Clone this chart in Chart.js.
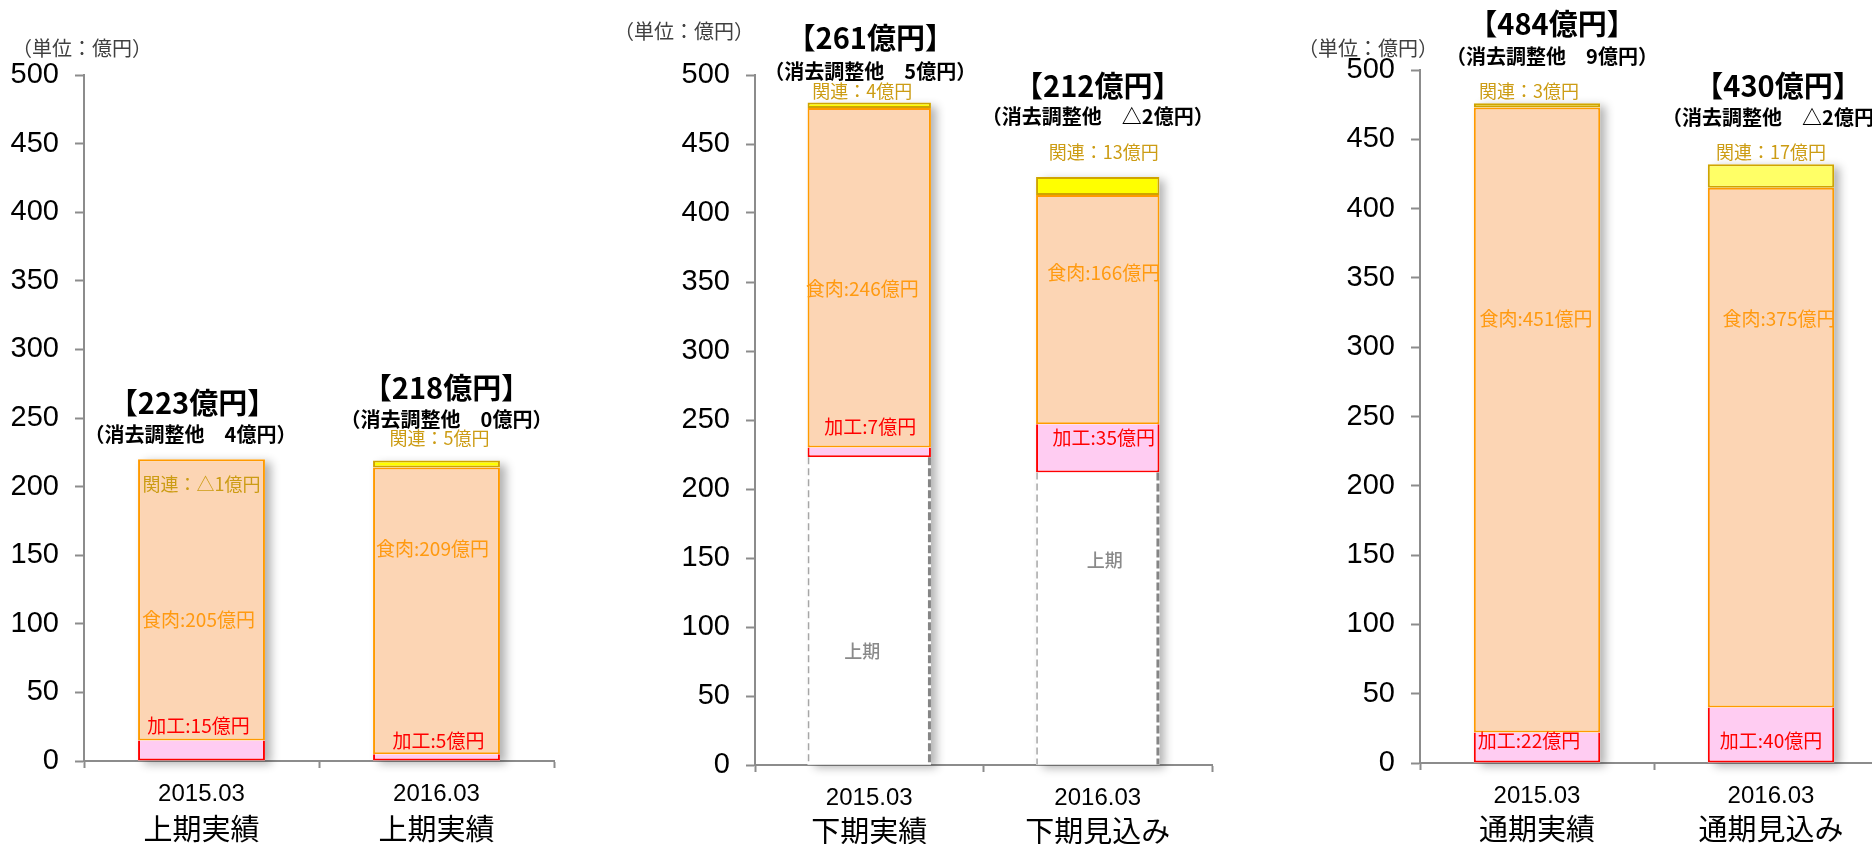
<!DOCTYPE html>
<html lang="ja">
<head>
<meta charset="utf-8">
<title>加工・食肉・関連 経常利益推移</title>
<script src="https://cdn.jsdelivr.net/npm/chart.js@4.4.1/dist/chart.umd.min.js"></script>
<style>
  html, body { margin: 0; padding: 0; background: #ffffff; overflow: hidden; width: 1872px; height: 844px; position: relative; }
  canvas { position: absolute; top: 0; }
</style>
</head>
<body>
<canvas id="firstHalf" width="600" height="844" style="left:0px"></canvas>
<canvas id="secondHalf" width="640" height="844" style="left:600px"></canvas>
<canvas id="fullYear" width="700" height="844" style="left:1240px"></canvas>
<script>
// ---- 上期実績 ----
const h1Categories = [['2015.03', '上期実績'], ['2016.03', '上期実績']];
const h1Processing = [15, 5];
const h1Meat = [205, 209];
const h1Related = [-1, 5];
const h1Totals = [223, 218];
const h1Adjust = [4, 0];

// ---- 下期 ----
const h2Categories = [['2015.03', '下期実績'], ['2016.03', '下期見込み']];
const h2FirstHalf = [223, 212];
const h2Processing = [7, 35];
const h2Meat = [246, 166];
const h2Related = [4, 13];
const h2Totals = [261, 212];
const h2Adjust = [5, -2];

// ---- 通期 ----
const fyCategories = [['2015.03', '通期実績'], ['2016.03', '通期見込み']];
const fyProcessing = [22, 40];
const fyMeat = [451, 375];
const fyRelated = [3, 17];
const fyTotals = [484, 430];
const fyAdjust = [9, -2];

// value axis
const yMin = 0;
const yMax = 500;
const yStep = 50;
const unitLabel = '（単位：億円）';

// ---- styling ----
const CJK = '"Noto Sans CJK JP", "Noto Sans CJK SC", sans-serif';
const LATIN = '"Liberation Sans", Arial, sans-serif';
const AXIS_GRAY = '#8c8c8c';
const COLORS = {
  procFill: '#FFCCF2', procLine: '#FF0000', procText: '#FF0000',
  meatFill: '#FCD5B4', meatLine: '#FF9A00', meatText: '#FF9A10',
  relLine: '#CFA400', relText: '#CC9C14',
  baseText: '#8a8a8a'
};

const fmt = v => (v < 0 ? '△' + (-v) : String(v));

// caption placement per bar: value-axis position of each caption and horizontal nudge (px)
const h1Layout = [
  { total: [261, -9], adj: [238, -11], rel: [202, 0], meat: [103, -3], proc: [25.5, -3] },
  { total: [272, 10], adj: [249, 10], rel: [235, 3], meat: [155, -4], proc: [14.6, 2] }
];
const h2Layout = [
  { total: [527, 1], adj: [502.8, 1], rel: [488, -7], meat: [345, -7], proc: [245, 1], base: [82.6, -7] },
  { total: [492, 0], adj: [470, 0], rel: [444, 6], meat: [357, 6], proc: [237, 6], base: [148.6, 7] }
];
const fyLayout = [
  { total: [533, 15], adj: [509.7, 15], rel: [484.5, -8], meat: [320.7, -1], proc: [15.9, -8] },
  { total: [488.5, 7], adj: [466, 7], rel: [441, 0], meat: [320.7, 8], proc: [15.9, 0] }
];

// soft drop shadow behind each stacked column
const shadowPlugin = {
  id: 'columnShadow',
  beforeDatasetsDraw(chart) {
    const ctx = chart.ctx;
    const n = chart.data.labels.length;
    ctx.save();
    ctx.shadowColor = 'rgba(0,0,0,0.30)';
    ctx.shadowBlur = 9;
    ctx.shadowOffsetX = 6;
    ctx.shadowOffsetY = 3;
    ctx.fillStyle = '#ffffff';
    for (let i = 0; i < n; i++) {
      let top = Infinity, bottom = -Infinity, left = 0, right = 0;
      chart.data.datasets.forEach((ds, di) => {
        const el = chart.getDatasetMeta(di).data[i];
        if (!el || ds.data[i] <= 0) return;
        const p = el.getProps(['x', 'y', 'base', 'width'], true);
        top = Math.min(top, p.y, p.base);
        bottom = Math.max(bottom, p.y, p.base);
        left = p.x - p.width / 2;
        right = p.x + p.width / 2;
      });
      if (top < bottom) ctx.fillRect(left, top, right - left, bottom - top);
    }
    ctx.restore();
  }
};

function makeOverlay(p) {
  return {
    id: 'stackCaptions',
    afterDatasetsDraw(chart) {
      const ctx = chart.ctx;
      const y = chart.scales.y;
      const x = chart.scales.x;
      const sets = chart.data.datasets;
      const idx = name => sets.findIndex(d => d.label === name);

      // dashed outline for the carried-over first-half portion
      const bi = idx('上期');
      if (bi >= 0) {
        chart.getDatasetMeta(bi).data.forEach(el => {
          const b = el.getProps(['x', 'y', 'base', 'width'], true);
          const l = b.x - b.width / 2, r = b.x + b.width / 2;
          ctx.save();
          ctx.strokeStyle = '#a6a6a6';
          ctx.lineWidth = 1.5;
          ctx.setLineDash([7, 4]);
          ctx.beginPath(); ctx.moveTo(l + 1, b.y); ctx.lineTo(l + 1, b.base); ctx.stroke();
          ctx.strokeStyle = '#858585';
          ctx.lineWidth = 3;
          ctx.setLineDash([8, 3]);
          ctx.beginPath(); ctx.moveTo(r - 1.5, b.y); ctx.lineTo(r - 1.5, b.base); ctx.stroke();
          ctx.restore();
        });
      }

      const put = (text, font, color, px, py) => {
        ctx.save();
        ctx.font = font;
        ctx.fillStyle = color;
        ctx.textAlign = 'center';
        ctx.textBaseline = 'middle';
        ctx.fillText(text, px, py);
        ctx.restore();
      };

      const meta0 = chart.getDatasetMeta(0).data;
      p.layout.forEach((L, i) => {
        const cx = meta0[i].x;
        const v = name => sets[idx(name)].data[i];
        const at = a => y.getPixelForValue(a[0]);
        put('【' + p.totals[i] + '億円】', 'bold 29px ' + CJK, '#000000', cx + L.total[1], at(L.total));
        put('（消去調整他　' + fmt(p.adjust[i]) + '億円）', 'bold 20px ' + CJK, '#000000', cx + L.adj[1], at(L.adj));
        put('関連：' + fmt(v('関連')) + '億円', '18px ' + CJK, COLORS.relText, cx + L.rel[1], at(L.rel));
        put('食肉:' + fmt(v('食肉')) + '億円', '19px ' + CJK, COLORS.meatText, cx + L.meat[1], at(L.meat));
        put('加工:' + fmt(v('加工')) + '億円', '19px ' + CJK, COLORS.procText, cx + L.proc[1], at(L.proc));
        if (L.base) put('上期', '500 18px ' + CJK, COLORS.baseText, cx + L.base[1], at(L.base));
      });

      // second line of each category label (period name)
      p.categories.forEach((c, i) => {
        put(c[1], '29px ' + CJK, '#000000', x.getPixelForValue(i), x.top + p.subLabelGap);
      });

      // unit caption
      ctx.save();
      ctx.font = '20px ' + CJK;
      ctx.fillStyle = '#404040';
      ctx.textAlign = 'left';
      ctx.textBaseline = 'middle';
      ctx.fillText(unitLabel, p.unitPos[0], p.unitPos[1]);
      ctx.restore();
    }
  };
}

function makePanel(id, p) {
  const datasets = [];
  if (p.firstHalf) {
    datasets.push({ label: '上期', data: p.firstHalf, backgroundColor: '#ffffff', borderWidth: 0 });
  }
  datasets.push({ label: '加工', data: p.processing, backgroundColor: COLORS.procFill, borderColor: COLORS.procLine,
                  borderWidth: { top: 0, left: 2, right: 2, bottom: 2 }, borderSkipped: false });
  datasets.push({ label: '食肉', data: p.meat, backgroundColor: COLORS.meatFill, borderColor: COLORS.meatLine,
                  borderWidth: 2, borderSkipped: false });
  datasets.push({ label: '関連', data: p.related, backgroundColor: p.relatedFill, borderColor: COLORS.relLine,
                  borderWidth: 2, borderSkipped: false });

  return new Chart(document.getElementById(id), {
    type: 'bar',
    data: { labels: p.categories, datasets },
    options: {
      responsive: false,
      animation: false,
      devicePixelRatio: 1,
      layout: { padding: { top: p.top, right: p.padRight, left: 0, bottom: 0 } },
      plugins: { legend: { display: false }, tooltip: { enabled: false } },
      datasets: { bar: { categoryPercentage: 1, barPercentage: 0.54 } },
      scales: {
        x: {
          stacked: true,
          offset: true,
          grid: { offset: true, drawOnChartArea: false, drawTicks: true, tickLength: 7, tickWidth: 2, tickColor: AXIS_GRAY },
          border: { display: true, color: AXIS_GRAY, width: 2 },
          ticks: { color: '#000000', font: { family: LATIN, size: 24, lineHeight: 1.4 }, padding: 10,
                   maxRotation: 0, autoSkip: false,
                   callback: (val, i) => p.categories[i][0] },
          afterFit(s) { s.height = p.xHeight; }
        },
        y: {
          stacked: true,
          min: yMin,
          max: yMax,
          ticks: { stepSize: yStep, color: '#000000', font: { family: LATIN, size: 29 }, padding: 16 },
          grid: { drawOnChartArea: false, drawTicks: true, tickLength: 9, tickWidth: 2, tickColor: AXIS_GRAY },
          border: { display: true, color: AXIS_GRAY, width: 2 },
          afterFit(s) { s.width = p.yWidth; }
        }
      }
    },
    plugins: [shadowPlugin, makeOverlay(p)]
  });
}

makePanel('firstHalf', {
  categories: h1Categories, processing: h1Processing, meat: h1Meat, related: h1Related,
  relatedFill: ['#FFFF00', '#FFFF00'], totals: h1Totals, adjust: h1Adjust, layout: h1Layout,
  top: 75, padRight: 46, xHeight: 83, yWidth: 84, unitPos: [12, 48], subLabelGap: 68
});

makePanel('secondHalf', {
  categories: h2Categories, firstHalf: h2FirstHalf, processing: h2Processing, meat: h2Meat, related: h2Related,
  relatedFill: ['#FFFF00', '#FFFF00'], totals: h2Totals, adjust: h2Adjust, layout: h2Layout,
  top: 75, padRight: 28, xHeight: 79, yWidth: 155, unitPos: [14, 31], subLabelGap: 66
});

makePanel('fullYear', {
  categories: fyCategories, processing: fyProcessing, meat: fyMeat, related: fyRelated,
  relatedFill: ['#FFFF66', '#FFFF66'], totals: fyTotals, adjust: fyAdjust, layout: fyLayout,
  top: 70, padRight: 52, xHeight: 81, yWidth: 180, unitPos: [58, 48], subLabelGap: 65.5
});
</script>
</body>
</html>
